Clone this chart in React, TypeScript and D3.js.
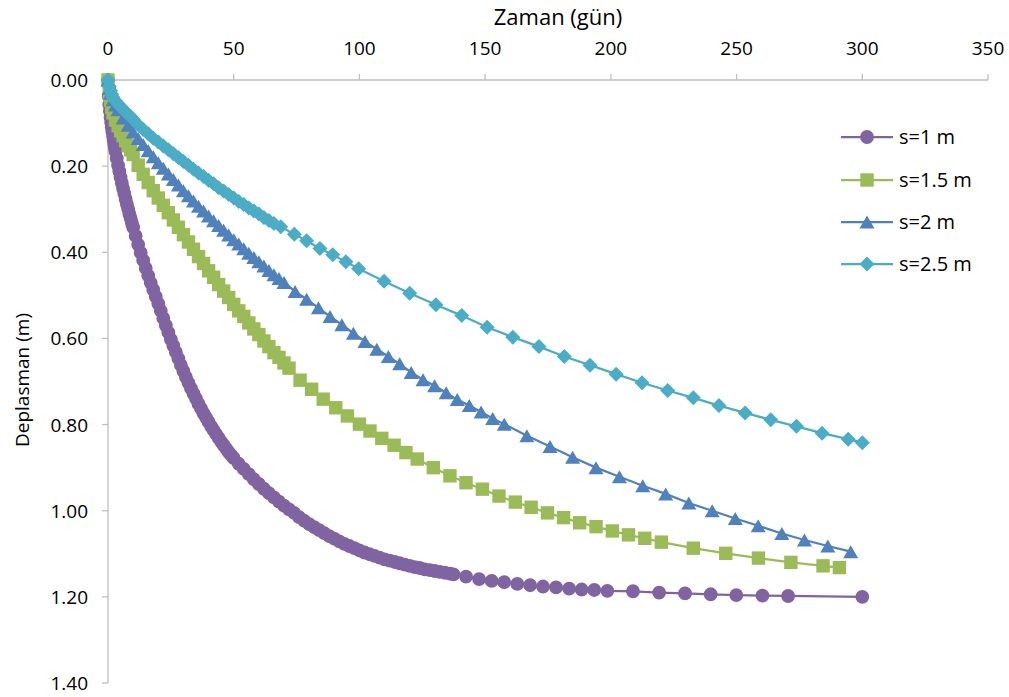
import React from "react";
import * as d3 from "d3";

// ---------- data ----------
const xTicks = [0, 50, 100, 150, 200, 250, 300, 350];
const yTicks = [0, 0.2, 0.4, 0.6, 0.8, 1.0, 1.2, 1.4];
const seriesNames = ["s=1 m", "s=1.5 m", "s=2 m", "s=2.5 m"];

// s = 1 m : [day, displacement m]
const s1: [number, number][] = [
  [0, 0], [0.25, 0.037], [0.5, 0.057], [0.75, 0.072], [1, 0.086], [1.25, 0.098], [1.5, 0.11], [1.75, 0.12],
  [2, 0.13], [2.25, 0.14], [2.5, 0.149], [2.75, 0.158], [3, 0.166], [3.5, 0.182], [4, 0.198], [4.5, 0.212],
  [5, 0.226], [5.5, 0.239], [6, 0.252], [6.5, 0.264], [7, 0.276], [7.5, 0.288], [8, 0.299], [8.5, 0.311],
  [9, 0.321], [9.5, 0.332], [10, 0.342], [11, 0.362], [12, 0.382], [13, 0.401], [14, 0.419], [15, 0.437],
  [16, 0.454], [17, 0.471], [18, 0.487], [19, 0.503], [20, 0.519], [21, 0.536], [22, 0.553], [23, 0.57],
  [24, 0.586], [25, 0.602], [26, 0.617], [27, 0.632], [28, 0.647], [29, 0.662], [30, 0.676], [31, 0.69],
  [32, 0.703], [33, 0.716], [34, 0.728], [35, 0.74], [36, 0.752], [37, 0.763], [38, 0.774], [39, 0.784],
  [40, 0.794], [41, 0.804], [42, 0.813], [43, 0.822], [44, 0.831], [45, 0.84], [46, 0.848], [47, 0.856],
  [48, 0.864], [49, 0.871], [50, 0.878], [52, 0.891], [54, 0.903], [56, 0.915], [58, 0.927], [60, 0.938],
  [62, 0.949], [64, 0.959], [66, 0.969], [68, 0.979], [70, 0.988], [72, 0.997], [74, 1.005], [76, 1.015],
  [78, 1.023], [80, 1.031], [82, 1.038], [84, 1.045], [86, 1.052], [88, 1.059], [90, 1.065], [92, 1.071],
  [94, 1.077], [96, 1.082], [98, 1.087], [100, 1.092], [102, 1.097], [104, 1.101], [106, 1.105], [108, 1.109],
  [110, 1.113], [112, 1.116], [114, 1.119], [116, 1.122], [118, 1.125], [120, 1.128], [122, 1.131], [124, 1.133],
  [126, 1.136], [128, 1.138], [130, 1.14], [132, 1.142], [134, 1.144], [136, 1.146], [137.4, 1.148],
  [142.4, 1.153], [147.6, 1.159], [152.6, 1.163], [157.6, 1.166], [162.8, 1.17], [167.9, 1.173], [173.0, 1.176],
  [178.2, 1.178], [183.4, 1.181], [188.4, 1.183], [193.4, 1.184], [198.6, 1.186], [208.8, 1.187], [219.2, 1.19],
  [229.5, 1.192], [239.7, 1.194], [249.9, 1.196], [260.3, 1.197], [270.5, 1.198], [300, 1.2],
];

// s = 1.5 m
const s15: [number, number][] = [
  [0, 0], [0.5, 0.028], [1, 0.047], [1.5, 0.063], [2, 0.076], [3, 0.093], [4, 0.106], [5, 0.118], [6, 0.129],
  [7, 0.141], [8, 0.152], [9, 0.162], [10, 0.173], [12, 0.198], [14, 0.219], [16, 0.238], [18, 0.257],
  [20, 0.274], [22, 0.291], [24, 0.308], [26, 0.325], [28, 0.342], [30, 0.359], [32, 0.376], [34, 0.393],
  [36, 0.41], [38, 0.426], [40, 0.443], [42, 0.458], [44, 0.475], [46, 0.49], [48, 0.505], [50, 0.521],
  [52, 0.536], [54, 0.549], [56, 0.564], [58, 0.578], [60, 0.591], [62, 0.606], [64, 0.619], [66, 0.633],
  [68, 0.644], [70, 0.657], [72, 0.669],
  [76.4, 0.697], [81.0, 0.718], [85.6, 0.741], [90.6, 0.761], [95.2, 0.78], [100.0, 0.799], [104.2, 0.815],
  [108.9, 0.832], [113.8, 0.848], [118.5, 0.865], [123.0, 0.88], [129.4, 0.9], [136.0, 0.919], [142.4, 0.935],
  [148.9, 0.95], [155.5, 0.966], [162.0, 0.98], [168.3, 0.992], [174.8, 1.005], [181.2, 1.016], [187.6, 1.028],
  [194.1, 1.037], [200.6, 1.047], [207.0, 1.056], [213.5, 1.064], [220.1, 1.073], [232.8, 1.087], [245.7, 1.099],
  [258.7, 1.11], [271.6, 1.12], [284.4, 1.128], [290.9, 1.132],
];

// s = 2 m
const s2: [number, number][] = [
  [0, 0], [0.5, 0.02], [1, 0.031], [2, 0.046], [3, 0.058], [4, 0.069], [6, 0.088], [8, 0.105], [10, 0.121],
  [12, 0.136], [14, 0.15], [16, 0.164], [18, 0.178], [20, 0.192], [22, 0.205], [24, 0.218], [26, 0.231],
  [28, 0.244], [30, 0.257], [32, 0.269], [34, 0.281], [36, 0.293], [38, 0.304], [40, 0.316], [42, 0.327],
  [44, 0.338], [46, 0.349], [48, 0.36], [50, 0.371], [52, 0.381], [54, 0.392], [56, 0.402], [58, 0.412],
  [60, 0.422], [62, 0.432], [64, 0.442], [66, 0.452], [68, 0.461], [70, 0.47],
  [74.4, 0.491], [79.0, 0.509], [83.7, 0.529], [88.3, 0.549], [93.0, 0.568], [97.6, 0.588], [102.2, 0.607],
  [106.9, 0.625], [111.5, 0.642], [116.0, 0.659], [120.6, 0.679], [125.3, 0.696], [129.9, 0.71], [134.5, 0.726],
  [138.9, 0.742], [143.7, 0.756], [148.4, 0.771], [153.0, 0.786], [157.6, 0.799], [166.6, 0.826], [175.8, 0.851],
  [184.8, 0.876], [194.1, 0.9], [203.4, 0.921], [212.7, 0.942], [221.8, 0.961], [231.0, 0.982], [240.3, 1.0],
  [249.5, 1.018], [258.6, 1.035], [268.0, 1.053], [277.0, 1.068], [286.3, 1.082], [295.4, 1.095],
];

// s = 2.5 m
const s25: [number, number][] = [
  [0, 0], [0.5, 0.015], [1, 0.025], [1.5, 0.033], [2, 0.04], [3, 0.049], [4, 0.056], [5, 0.062], [6, 0.068],
  [7, 0.074], [8, 0.08], [9, 0.085], [10, 0.091], [12, 0.104], [14, 0.115], [16, 0.125], [18, 0.135],
  [20, 0.144], [22, 0.153], [24, 0.162], [26, 0.171], [28, 0.18], [30, 0.189], [32, 0.198], [34, 0.207],
  [36, 0.216], [38, 0.224], [40, 0.233], [42, 0.241], [44, 0.25], [46, 0.258], [48, 0.266], [50, 0.274],
  [52, 0.282], [54, 0.289], [56, 0.297], [58, 0.304], [60, 0.311], [62, 0.319], [64, 0.326], [66, 0.333],
  [68.7, 0.341], [74.1, 0.358], [79.0, 0.373], [84.3, 0.391], [89.4, 0.406], [94.6, 0.422], [99.7, 0.438],
  [109.8, 0.467], [120.0, 0.495], [130.4, 0.522], [140.7, 0.547], [150.8, 0.574], [161.0, 0.597], [171.4, 0.619],
  [181.5, 0.642], [191.7, 0.662], [202.1, 0.683], [212.4, 0.703], [222.6, 0.721], [232.8, 0.738], [243.0, 0.756],
  [253.4, 0.773], [263.6, 0.789], [273.8, 0.804], [284.0, 0.82], [294.4, 0.834], [300, 0.842],
];

const seriesData = [s1, s15, s2, s25];
const colors = ["#8064A2", "#9BBB59", "#4F81BD", "#4BACC6"];
const markerKinds = ["circle", "square", "triangle", "diamond"];

// ---------- layout ----------
const W = 1009;
const H = 697;
const FONT = "'Open Sans', 'Noto Sans', sans-serif";

const x = d3.scaleLinear().domain([0, 350]).range([108, 988]);
const y = d3.scaleLinear().domain([0, 1.4]).range([80, 683]);

function markerPath(kind: string): string {
  if (kind === "circle") return d3.symbol(d3.symbolCircle, 150)() as string;
  if (kind === "square") return d3.symbol(d3.symbolSquare, 180)() as string;
  if (kind === "triangle") {
    const w = 15, h = 13;
    return `M0,${-h / 2}L${w / 2},${h / 2}L${-w / 2},${h / 2}Z`;
  }
  const r = 7.5;
  return `M0,${-r}L${r},0L0,${r}L${-r},0Z`;
}

const line = d3
  .line<[number, number]>()
  .x((d) => x(d[0]))
  .y((d) => y(d[1]));

export default function App() {
  const legendY = [137, 180, 222, 264];
  return (
    <svg
      width={W}
      height={H}
      style={{ position: "absolute", left: 0, top: 0, background: "#fff" }}
      fontFamily={FONT}
    >
      <rect x={0} y={0} width={W} height={H} fill="#fff" />
      {/* axes */}
      <g stroke="#BFBFBF" strokeWidth={1.3} fill="none">
        <line x1={x(0)} x2={x(350)} y1={y(0)} y2={y(0)} />
        <line x1={x(0)} x2={x(0)} y1={y(0)} y2={y(1.4)} />
        {xTicks.map((t) => (
          <line key={"xt" + t} x1={x(t)} x2={x(t)} y1={y(0) - 6} y2={y(0)} />
        ))}
        {yTicks.map((t) => (
          <line key={"yt" + t} x1={x(0) - 6} x2={x(0)} y1={y(t)} y2={y(t)} />
        ))}
      </g>
      {xTicks.map((t) => (
        <text key={"xl" + t} x={x(t)} y={55} textAnchor="middle" fontSize={19} fill="#000">
          {t}
        </text>
      ))}
      {yTicks.map((t) => (
        <text key={"yl" + t} x={88} y={y(t) + 7} textAnchor="end" fontSize={19} fill="#000">
          {t.toFixed(2)}
        </text>
      ))}
      <text x={558} y={25} textAnchor="middle" fontSize={22} fill="#000">
        Zaman (gün)
      </text>
      <text
        transform={`translate(29,380) rotate(-90)`}
        textAnchor="middle"
        fontSize={19}
        fill="#000"
      >
        Deplasman (m)
      </text>

      {/* series */}
      {seriesData.map((data, i) => (
        <g key={"s" + i}>
          <path d={line(data) as string} fill="none" stroke={colors[i]} strokeWidth={2.25} />
          {data.map((d, j) => (
            <path
              key={j}
              d={markerPath(markerKinds[i])}
              transform={`translate(${x(d[0])},${y(d[1])})`}
              fill={colors[i]}
            />
          ))}
        </g>
      ))}

      {/* legend */}
      {seriesNames.map((name, i) => (
        <g key={"lg" + i} transform={`translate(0,${legendY[i]})`}>
          <line x1={841} x2={893} y1={0} y2={0} stroke={colors[i]} strokeWidth={2.25} />
          <path d={markerPath(markerKinds[i])} transform="translate(867,0)" fill={colors[i]} />
          <text x={899} y={7} fontSize={20} fill="#000">
            {name}
          </text>
        </g>
      ))}
    </svg>
  );
}
